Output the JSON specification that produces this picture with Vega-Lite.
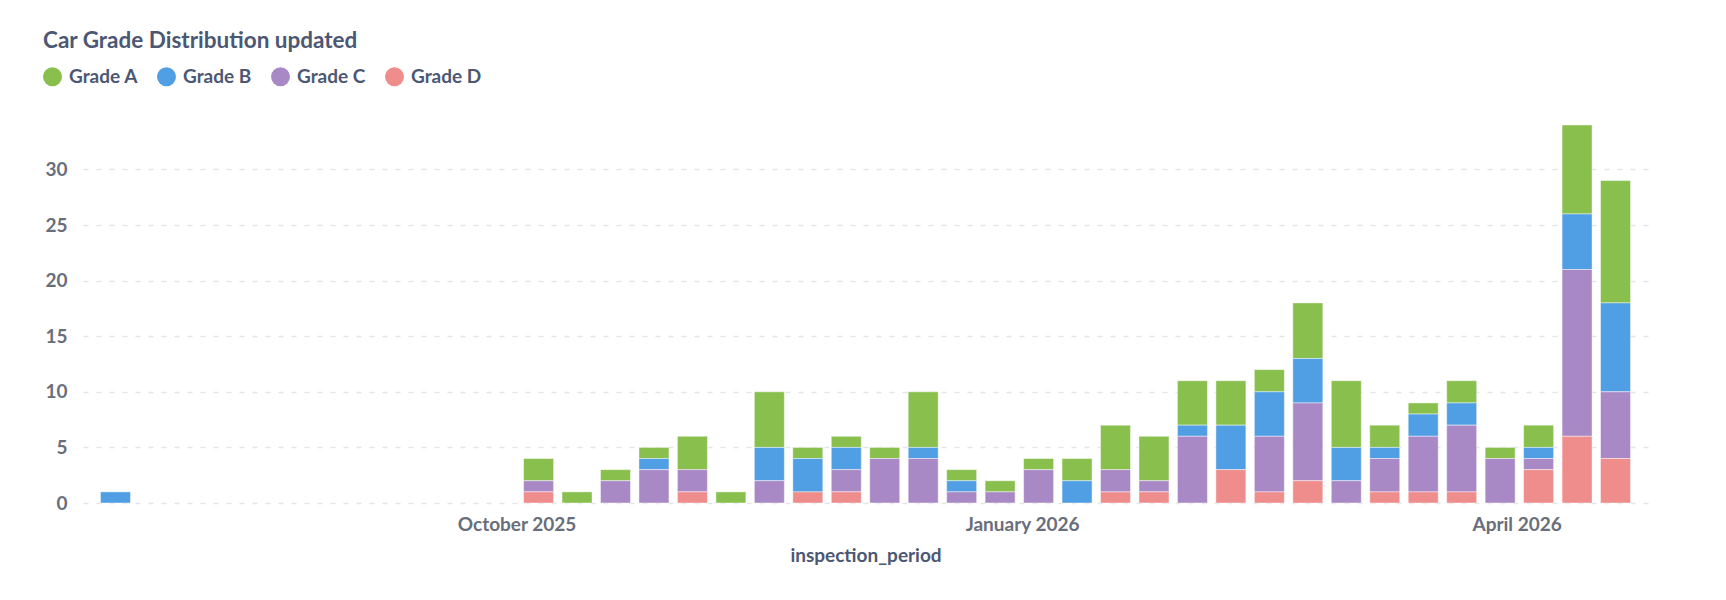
{
  "$schema": "https://vega.github.io/schema/vega-lite/v6.json",
  "autosize": {"type": "none"},
  "width": 1565,
  "height": 378,
  "padding": {"left": 83, "top": 125, "right": 78, "bottom": 97},
  "background": "white",
  "title": {
    "text": "Car Grade Distribution updated",
    "anchor": "start",
    "frame": "group",
    "dx": -40,
    "offset": -3,
    "baseline": "alphabetic",
    "font": "Lato",
    "fontSize": 22.5,
    "fontWeight": "bold",
    "color": "#4C5773"
  },
  "config": {
    "view": {"stroke": null},
    "axis": {"labelFont": "Lato", "titleFont": "Lato"}
  },
  "data": {
    "values": [
      {"period": "2025-07-20", "grade": "Grade B", "count": 1},
      {"period": "2025-10-05", "grade": "Grade A", "count": 2},
      {"period": "2025-10-05", "grade": "Grade C", "count": 1},
      {"period": "2025-10-05", "grade": "Grade D", "count": 1},
      {"period": "2025-10-12", "grade": "Grade A", "count": 1},
      {"period": "2025-10-19", "grade": "Grade A", "count": 1},
      {"period": "2025-10-19", "grade": "Grade C", "count": 2},
      {"period": "2025-10-26", "grade": "Grade A", "count": 1},
      {"period": "2025-10-26", "grade": "Grade B", "count": 1},
      {"period": "2025-10-26", "grade": "Grade C", "count": 3},
      {"period": "2025-11-02", "grade": "Grade A", "count": 3},
      {"period": "2025-11-02", "grade": "Grade C", "count": 2},
      {"period": "2025-11-02", "grade": "Grade D", "count": 1},
      {"period": "2025-11-09", "grade": "Grade A", "count": 1},
      {"period": "2025-11-16", "grade": "Grade A", "count": 5},
      {"period": "2025-11-16", "grade": "Grade B", "count": 3},
      {"period": "2025-11-16", "grade": "Grade C", "count": 2},
      {"period": "2025-11-23", "grade": "Grade A", "count": 1},
      {"period": "2025-11-23", "grade": "Grade B", "count": 3},
      {"period": "2025-11-23", "grade": "Grade D", "count": 1},
      {"period": "2025-11-30", "grade": "Grade A", "count": 1},
      {"period": "2025-11-30", "grade": "Grade B", "count": 2},
      {"period": "2025-11-30", "grade": "Grade C", "count": 2},
      {"period": "2025-11-30", "grade": "Grade D", "count": 1},
      {"period": "2025-12-07", "grade": "Grade A", "count": 1},
      {"period": "2025-12-07", "grade": "Grade C", "count": 4},
      {"period": "2025-12-14", "grade": "Grade A", "count": 5},
      {"period": "2025-12-14", "grade": "Grade B", "count": 1},
      {"period": "2025-12-14", "grade": "Grade C", "count": 4},
      {"period": "2025-12-21", "grade": "Grade A", "count": 1},
      {"period": "2025-12-21", "grade": "Grade B", "count": 1},
      {"period": "2025-12-21", "grade": "Grade C", "count": 1},
      {"period": "2025-12-28", "grade": "Grade A", "count": 1},
      {"period": "2025-12-28", "grade": "Grade C", "count": 1},
      {"period": "2026-01-04", "grade": "Grade A", "count": 1},
      {"period": "2026-01-04", "grade": "Grade C", "count": 3},
      {"period": "2026-01-11", "grade": "Grade A", "count": 2},
      {"period": "2026-01-11", "grade": "Grade B", "count": 2},
      {"period": "2026-01-18", "grade": "Grade A", "count": 4},
      {"period": "2026-01-18", "grade": "Grade C", "count": 2},
      {"period": "2026-01-18", "grade": "Grade D", "count": 1},
      {"period": "2026-01-25", "grade": "Grade A", "count": 4},
      {"period": "2026-01-25", "grade": "Grade C", "count": 1},
      {"period": "2026-01-25", "grade": "Grade D", "count": 1},
      {"period": "2026-02-01", "grade": "Grade A", "count": 4},
      {"period": "2026-02-01", "grade": "Grade B", "count": 1},
      {"period": "2026-02-01", "grade": "Grade C", "count": 6},
      {"period": "2026-02-08", "grade": "Grade A", "count": 4},
      {"period": "2026-02-08", "grade": "Grade B", "count": 4},
      {"period": "2026-02-08", "grade": "Grade D", "count": 3},
      {"period": "2026-02-15", "grade": "Grade A", "count": 2},
      {"period": "2026-02-15", "grade": "Grade B", "count": 4},
      {"period": "2026-02-15", "grade": "Grade C", "count": 5},
      {"period": "2026-02-15", "grade": "Grade D", "count": 1},
      {"period": "2026-02-22", "grade": "Grade A", "count": 5},
      {"period": "2026-02-22", "grade": "Grade B", "count": 4},
      {"period": "2026-02-22", "grade": "Grade C", "count": 7},
      {"period": "2026-02-22", "grade": "Grade D", "count": 2},
      {"period": "2026-03-01", "grade": "Grade A", "count": 6},
      {"period": "2026-03-01", "grade": "Grade B", "count": 3},
      {"period": "2026-03-01", "grade": "Grade C", "count": 2},
      {"period": "2026-03-08", "grade": "Grade A", "count": 2},
      {"period": "2026-03-08", "grade": "Grade B", "count": 1},
      {"period": "2026-03-08", "grade": "Grade C", "count": 3},
      {"period": "2026-03-08", "grade": "Grade D", "count": 1},
      {"period": "2026-03-15", "grade": "Grade A", "count": 1},
      {"period": "2026-03-15", "grade": "Grade B", "count": 2},
      {"period": "2026-03-15", "grade": "Grade C", "count": 5},
      {"period": "2026-03-15", "grade": "Grade D", "count": 1},
      {"period": "2026-03-22", "grade": "Grade A", "count": 2},
      {"period": "2026-03-22", "grade": "Grade B", "count": 2},
      {"period": "2026-03-22", "grade": "Grade C", "count": 6},
      {"period": "2026-03-22", "grade": "Grade D", "count": 1},
      {"period": "2026-03-29", "grade": "Grade A", "count": 1},
      {"period": "2026-03-29", "grade": "Grade C", "count": 4},
      {"period": "2026-04-05", "grade": "Grade A", "count": 2},
      {"period": "2026-04-05", "grade": "Grade B", "count": 1},
      {"period": "2026-04-05", "grade": "Grade C", "count": 1},
      {"period": "2026-04-05", "grade": "Grade D", "count": 3},
      {"period": "2026-04-12", "grade": "Grade A", "count": 8},
      {"period": "2026-04-12", "grade": "Grade B", "count": 5},
      {"period": "2026-04-12", "grade": "Grade C", "count": 15},
      {"period": "2026-04-12", "grade": "Grade D", "count": 6},
      {"period": "2026-04-19", "grade": "Grade A", "count": 11},
      {"period": "2026-04-19", "grade": "Grade B", "count": 8},
      {"period": "2026-04-19", "grade": "Grade C", "count": 6},
      {"period": "2026-04-19", "grade": "Grade D", "count": 4}
    ]
  },
  "mark": {
    "type": "bar",
    "width": 30,
    "stroke": "white",
    "strokeWidth": 1,
    "strokeOpacity": 0.45
  },
  "encoding": {
    "x": {
      "field": "period",
      "type": "temporal",
      "title": "inspection_period",
      "scale": {
        "type": "utc",
        "domain": [
          {"year": 2025, "month": 7, "date": 15, "utc": true},
          {"year": 2026, "month": 4, "date": 24, "utc": true}
        ]
      },
      "axis": {
        "values": [
          {"year": 2025, "month": 10, "date": 1, "utc": true},
          {"year": 2026, "month": 1, "date": 1, "utc": true},
          {"year": 2026, "month": 4, "date": 1, "utc": true}
        ],
        "labelExpr": "utcFormat(datum.value, '%B %Y')",
        "domain": false,
        "ticks": false,
        "grid": false,
        "labelFontSize": 19,
        "labelFontWeight": "bold",
        "labelColor": "#696E7B",
        "labelPadding": 12,
        "titleFontSize": 19,
        "titleFontWeight": "bold",
        "titleColor": "#4C5773",
        "titlePadding": 12
      }
    },
    "y": {
      "field": "count",
      "type": "quantitative",
      "aggregate": "sum",
      "title": null,
      "scale": {"domain": [0, 34], "nice": false},
      "axis": {
        "values": [0, 5, 10, 15, 20, 25, 30],
        "domain": false,
        "ticks": false,
        "labelFontSize": 19,
        "labelFontWeight": "bold",
        "labelColor": "#696E7B",
        "labelPadding": 16,
        "gridColor": "#E3E5E8",
        "gridDash": [5, 8],
        "gridWidth": 1.5
      }
    },
    "color": {
      "field": "grade",
      "type": "nominal",
      "scale": {
        "domain": ["Grade A", "Grade B", "Grade C", "Grade D"],
        "range": ["#88BF4D", "#509EE3", "#A989C5", "#EF8C8C"]
      },
      "legend": {
        "orient": "none",
        "direction": "horizontal",
        "columns": 4,
        "legendX": -40,
        "legendY": -58,
        "title": null,
        "symbolType": "circle",
        "symbolSize": 361,
        "symbolStrokeWidth": 0,
        "symbolOpacity": 1,
        "labelFont": "Lato",
        "labelFontSize": 19,
        "labelFontWeight": "bold",
        "labelColor": "#4C5773",
        "labelOffset": 7,
        "columnPadding": 19
      }
    },
    "order": {"field": "grade", "sort": "descending"}
  }
}
